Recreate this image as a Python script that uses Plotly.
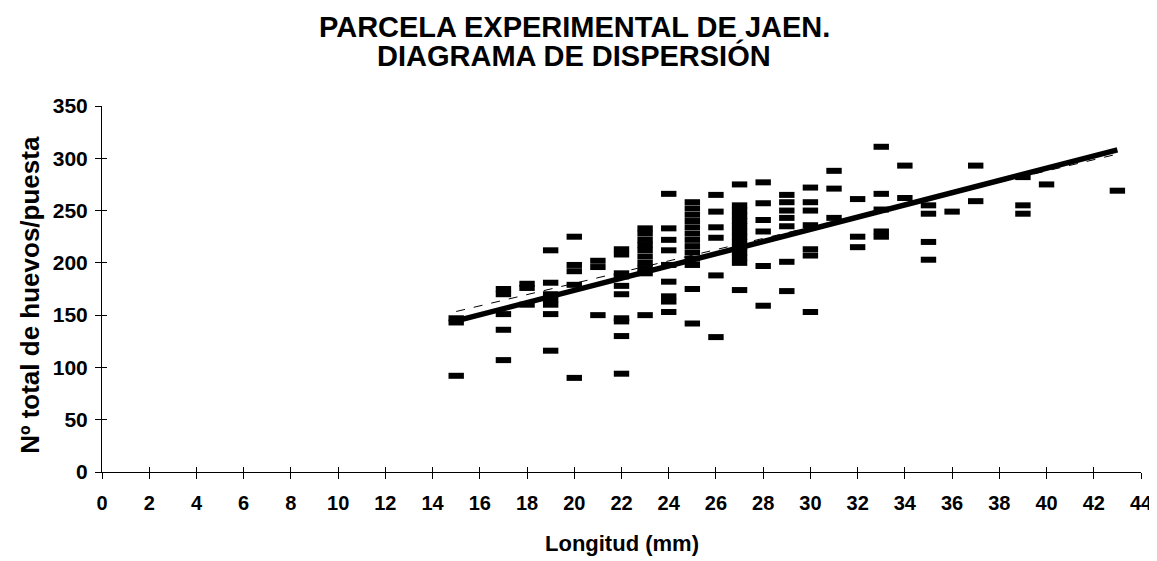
import plotly.graph_objects as go

# ---- data ----
longitud = (
    [15] * 3 + [17] * 5 + [18] * 3 + [19] * 7 + [20] * 5 + [21] * 3 + [22] * 10 +
    [23] * 10 + [24] * 9 + [25] * 13 + [26] * 6 + [27] * 14 + [28] * 6 + [29] * 7 +
    [30] * 7 + [31] * 3 + [32] * 3 + [33] * 5 + [34] * 2 + [35] * 4 + [36] * 1 +
    [37] * 2 + [39] * 3 + [40] * 1 + [43] * 1
)
huevos = [
    147, 143, 92,
    175, 170, 151, 136, 107,
    180, 176, 160,
    212, 181, 170, 165, 160, 151, 116,
    225, 198, 192, 179, 90,
    202, 196, 150,
    213, 208, 190, 187, 178, 170, 147, 144, 130, 94,
    233, 228, 222, 217, 212, 206, 200, 195, 190, 150,
    266, 233, 222, 212, 198, 182, 168, 163, 153,
    258, 252, 246, 240, 234, 228, 222, 216, 210, 204, 198, 175, 142,
    265, 249, 234, 224, 188, 129,
    275, 255, 250, 245, 240, 235, 230, 225, 220, 215, 210, 205, 200, 174,
    277, 257, 241, 230, 197, 159,
    265, 258, 250, 243, 235, 201, 173,
    272, 258, 250, 236, 213, 207, 153,
    288, 271, 243,
    261, 225, 215,
    311, 266, 251, 230, 225,
    293, 262,
    255, 247, 220, 203,
    249,
    293, 259,
    282, 255, 247,
    275,
    269,
]
trend_x = [15, 43]
trend_y = [144.5, 308]
dashed_y = [153.5, 304]

x_ticks = list(range(0, 45, 2))
y_ticks = list(range(0, 351, 50))

title_lines = ["PARCELA EXPERIMENTAL DE JAEN.", "DIAGRAMA DE DISPERSIÓN"]
x_title = "Longitud (mm)"
y_title = "Nº total de huevos/puesta"

FONT = "Liberation Sans, Arial, sans-serif"

fig = go.Figure()
fig.add_trace(go.Scatter(
    x=longitud, y=huevos, mode="markers",
    marker=dict(symbol="line-ew", size=11, color="black",
                line=dict(color="black", width=6)),
    showlegend=False,
))
fig.add_trace(go.Scatter(
    x=trend_x, y=trend_y, mode="lines",
    line=dict(color="black", width=5.5), showlegend=False,
))
fig.add_trace(go.Scatter(
    x=trend_x, y=dashed_y, mode="lines",
    line=dict(color="black", width=1, dash="dash"), showlegend=False,
))
# dummy trace for overlay axes (inside tick halves)
fig.add_trace(go.Scatter(x=[None], y=[None], xaxis="x2", yaxis="y2",
                         showlegend=False, hoverinfo="skip"))

annotations = [
    dict(text=title_lines[0], x=0.4543, y=1.216, xref="paper", yref="paper",
         xanchor="center", yanchor="middle", showarrow=False,
         font=dict(family=FONT, size=29, weight="bold", color="black")),
    dict(text=title_lines[1], x=0.4543, y=1.137, xref="paper", yref="paper",
         xanchor="center", yanchor="middle", showarrow=False,
         font=dict(family=FONT, size=29, weight="bold", color="black")),
    dict(text=x_title, x=0.5, y=-0.194, xref="paper", yref="paper",
         xanchor="center", yanchor="middle", showarrow=False,
         font=dict(family=FONT, size=22, weight="bold", color="black")),
    dict(text=y_title, x=-0.0693, y=0.484, xref="paper", yref="paper",
         xanchor="center", yanchor="middle", showarrow=False, textangle=-90,
         font=dict(family=FONT, size=26, weight="bold", color="black")),
]

# page body adds an 8px offset, so the figure is drawn 8px smaller and shifted
fig.update_layout(
    width=1149, height=553,
    margin=dict(l=94, r=16, t=98, b=89, autoexpand=False),
    paper_bgcolor="white", plot_bgcolor="white",
    font=dict(family=FONT, color="black"),
    annotations=annotations,
    xaxis=dict(
        range=[0, 44], tickvals=x_ticks, ticktext=[str(v) for v in x_ticks],
        showgrid=False, zeroline=False, showline=True, linecolor="black", linewidth=1,
        ticks="outside", ticklen=6, tickcolor="black", tickwidth=1,
        ticklabelstandoff=7, automargin=False,
        tickfont=dict(family=FONT, size=20, weight="bold"),
    ),
    yaxis=dict(
        range=[0, 350], tickvals=y_ticks,
        showgrid=False, zeroline=False, showline=True, linecolor="black", linewidth=1,
        ticks="outside", ticklen=6, tickcolor="black", tickwidth=1,
        ticklabelstandoff=3, automargin=False,
        tickfont=dict(family=FONT, size=21, weight="bold"),
    ),
    xaxis2=dict(range=[0, 44], overlaying="x", anchor="y", tickvals=x_ticks,
                showticklabels=False, showgrid=False, zeroline=False,
                ticks="inside", ticklen=5, tickcolor="black", tickwidth=1),
    yaxis2=dict(range=[0, 350], overlaying="y", anchor="x", tickvals=y_ticks,
                showticklabels=False, showgrid=False, zeroline=False,
                ticks="inside", ticklen=5, tickcolor="black", tickwidth=1),
)

fig.write_html("out.html")
